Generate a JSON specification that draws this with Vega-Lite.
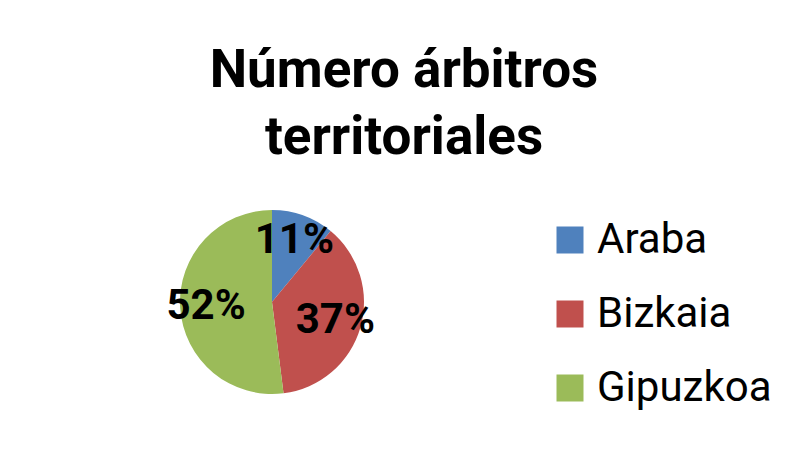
{
  "$schema": "https://vega.github.io/schema/vega-lite/v6.json",
  "width": 544,
  "height": 190,
  "autosize": {"type": "none"},
  "padding": {"left": 0, "top": 207, "right": 246, "bottom": 52},
  "background": "white",
  "title": {
    "text": ["Número árbitros", "territoriales"],
    "font": "Roboto",
    "fontSize": 53,
    "fontWeight": "bold",
    "color": "black",
    "lineHeight": 67,
    "anchor": "middle",
    "dx": 132,
    "offset": 42
  },
  "config": {"view": {"stroke": null}},
  "data": {
    "values": [
      {"region": "Araba", "share": 0.11},
      {"region": "Bizkaia", "share": 0.37},
      {"region": "Gipuzkoa", "share": 0.52}
    ]
  },
  "layer": [
    {
      "mark": {"type": "arc", "outerRadius": 92},
      "encoding": {
        "theta": {"field": "share", "type": "quantitative", "stack": true},
        "order": {"field": "region", "sort": "ascending"},
        "color": {
          "field": "region",
          "type": "nominal",
          "scale": {"domain": ["Araba", "Bizkaia", "Gipuzkoa"], "range": ["#4F81BD", "#C0504D", "#9BBB59"]},
          "legend": {
            "title": null,
            "orient": "none",
            "legendX": 549,
            "legendY": 12,
            "padding": 0,
            "symbolType": "square",
            "symbolSize": 729,
            "symbolStrokeWidth": 0,
            "labelFont": "Roboto",
            "labelFontSize": 42,
            "labelColor": "black",
            "labelOffset": 6,
            "labelLimit": 0,
            "rowPadding": 32
          }
        }
      }
    },
    {
      "mark": {"type": "text", "radius": 66, "font": "Roboto", "fontSize": 42, "fontWeight": "bold", "color": "black"},
      "encoding": {
        "theta": {"field": "share", "type": "quantitative", "stack": true},
        "order": {"field": "region", "sort": "ascending"},
        "detail": {"field": "region"},
        "text": {"field": "share", "type": "quantitative", "format": ".0%"}
      }
    }
  ]
}
